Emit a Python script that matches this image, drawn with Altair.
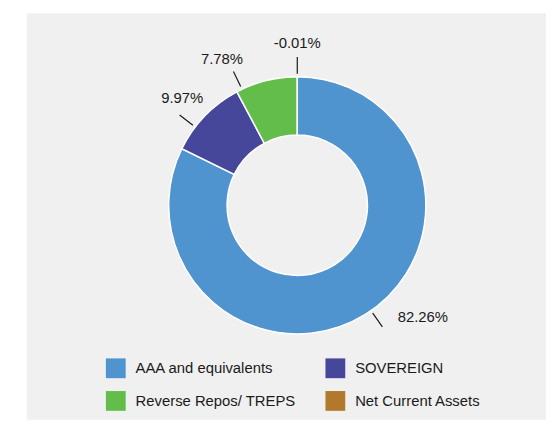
import math
import altair as alt
import pandas as pd

# ---- data ----
categories = ["AAA and equivalents", "SOVEREIGN", "Reverse Repos/ TREPS", "Net Current Assets"]
values = [82.26, 9.97, 7.78, -0.01]
colors = ["#4f93cf", "#46479b", "#62bd4b", "#b0792c"]

# ---- layout nudges (ring units / px) to mimic the reference's label placement ----
label_nudge = [-4.54, -0.3, -3.69, 0.0]
leader_nudge = [-0.85, -1.82, -3.19, 0.0]
label_radius = [170, 159, 166, 164]

size = [max(v, 0.0) for v in values]
total = sum(size)
start = [sum(size[:i]) for i in range(len(size))]
mid = [s + w / 2 for s, w in zip(start, size)]

df = pd.DataFrame({
    "category": categories,
    "value": values,
    "size": size,
    "idx": list(range(len(values))),
    "label": [f"{v:.2f}%" for v in values],
    "label_at": [m + n for m, n in zip(mid, label_nudge)],
    "leader_at": [m + n for m, n in zip(mid, leader_nudge)],
    "label_r": label_radius,
})

theta_scale = alt.Scale(domain=[0, total], range=[0, 2 * math.pi])
cx, cy = 273.5, 194.2
FONT = "Liberation Sans"
INK = "#1a1a1a"

base = alt.Chart(df)

arcs = base.mark_arc(outerRadius=130, innerRadius=71, stroke="white", strokeWidth=1.5).encode(
    theta=alt.Theta("size:Q", stack=True, scale=theta_scale),
    color=alt.Color(
        "category:N",
        scale=alt.Scale(domain=categories, range=colors),
        legend=alt.Legend(
            title=None, orient="none", legendX=80, legendY=349, columns=2,
            direction="horizontal",
            symbolType="square", symbolSize=400, symbolStrokeWidth=0,
            labelFont=FONT, labelFontSize=15, labelColor=INK, labelOffset=10,
            rowPadding=13, columnPadding=30, padding=0, labelLimit=300,
        ),
    ),
    order=alt.Order("idx:Q"),
    x=alt.value(cx),
    y=alt.value(cy),
)

leaders = base.mark_arc(innerRadius=133, outerRadius=150, stroke=INK, strokeWidth=1.2, fillOpacity=0).encode(
    theta=alt.Theta("leader_at:Q", scale=theta_scale, stack=None),
    theta2=alt.Theta2("leader_at:Q"),
    x=alt.value(cx),
    y=alt.value(cy),
)

texts = base.mark_text(font=FONT, fontSize=15, color=INK).encode(
    theta=alt.Theta("label_at:Q", scale=theta_scale, stack=None),
    radius=alt.Radius("label_r:Q", scale=None),
    text="label:N",
    x=alt.value(cx),
    y=alt.value(cy),
)

chart = alt.layer(arcs, leaders, texts).properties(
    width=525,
    height=411,
    autosize="none",
    padding={"left": 19, "top": 3, "right": 0, "bottom": 0},
    background="white",
).configure_view(fill="#f0f0f0", strokeWidth=0)

chart.save("out.html", embed_options={"renderer": "svg", "actions": False})
